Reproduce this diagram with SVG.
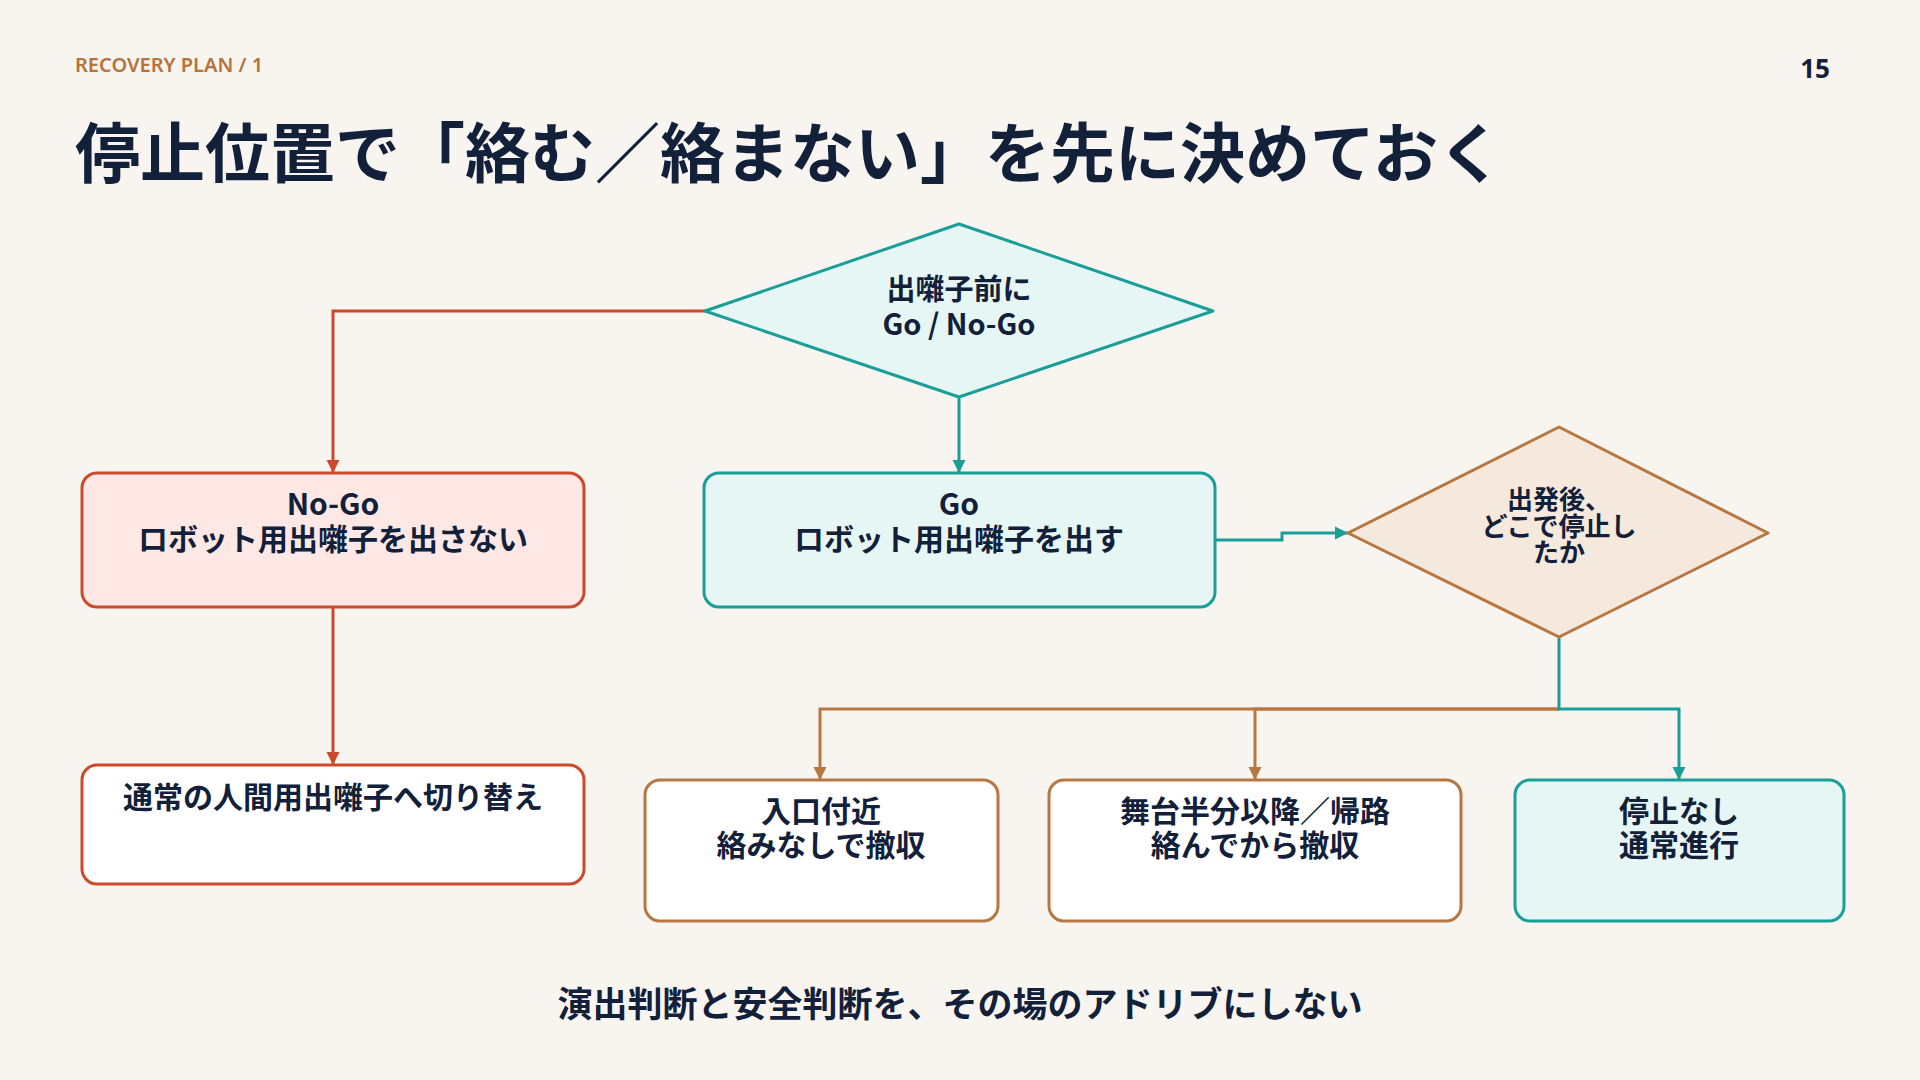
<svg xmlns="http://www.w3.org/2000/svg" width="1920" height="1080" viewBox="0 0 1920 1080">
<style>
.t{font-family:"Noto Sans CJK JP","Noto Sans",sans-serif;font-weight:700;fill:#12203a;text-anchor:middle}
.n{font-size:30px}
.red{stroke:#cc4a2c}
.teal{stroke:#1a9e98}
.brown{stroke:#b87640}
.c{fill:none;stroke-width:3}
</style>
<defs>
<marker id="ar" viewBox="0 0 10 10" refX="10" refY="5" markerWidth="4.5" markerHeight="4.5" orient="auto" markerUnits="strokeWidth"><path d="M0,0L10,5L0,10z" fill="#cc4a2c"/></marker>
<marker id="at" viewBox="0 0 10 10" refX="10" refY="5" markerWidth="4.5" markerHeight="4.5" orient="auto" markerUnits="strokeWidth"><path d="M0,0L10,5L0,10z" fill="#1a9e98"/></marker>
<marker id="ab" viewBox="0 0 10 10" refX="10" refY="5" markerWidth="4.5" markerHeight="4.5" orient="auto" markerUnits="strokeWidth"><path d="M0,0L10,5L0,10z" fill="#b87640"/></marker>
</defs>
<rect width="1920" height="1080" fill="#f8f5f0"/>
<text x="75" y="72" style="font-family:'Noto Sans','Open Sans',sans-serif;font-weight:600;font-size:20px;fill:#b5733d">RECOVERY PLAN / 1</text>
<text x="1815" y="78" style="font-family:'Noto Sans','Open Sans',sans-serif;font-weight:700;font-size:26px;fill:#12203a;text-anchor:middle">15</text>
<text x="75" y="177" style="font-family:'Noto Sans CJK JP',sans-serif;font-weight:700;font-size:65px;fill:#12203a">停止位置で「絡む／絡まない」を先に決めておく</text>

<g id="connectors">
<path class="c red" d="M705,311H333V473" marker-end="url(#ar)"/>
<path class="c teal" d="M959,397V473" marker-end="url(#at)"/>
<path class="c red" d="M333,607V765" marker-end="url(#ar)"/>
<path class="c teal" d="M1215,540H1282V533H1348" marker-end="url(#at)"/>
<path class="c brown" d="M1559,709H820V780" marker-end="url(#ab)"/>
<path class="c brown" d="M1559,709H1255V780" marker-end="url(#ab)"/>
<path class="c teal" d="M1559,637V709H1679V780" marker-end="url(#at)"/>
</g>

<g id="decision-go">
<polygon points="959,224 1213,311 959,397 705,311" fill="#e6f6f4" stroke="#1a9e98" stroke-width="3" stroke-linejoin="round"/>
<text class="t" style="font-size:29px" x="959" y="300">出囃子前に</text>
<text class="t" style="font-size:29px" x="959" y="335">Go / No-Go</text>
</g>

<g id="nogo">
<rect x="82" y="473" width="502" height="134" rx="15" fill="#fde8e5" stroke="#cc4a2c" stroke-width="3"/>
<text class="t n" x="333" y="515">No-Go</text>
<text class="t n" x="333" y="550">ロボット用出囃子を出さない</text>
</g>

<g id="go">
<rect x="704" y="473" width="511" height="134" rx="15" fill="#e6f6f4" stroke="#1a9e98" stroke-width="3"/>
<text class="t n" x="959" y="515">Go</text>
<text class="t n" x="959" y="550">ロボット用出囃子を出す</text>
</g>

<g id="decision-stop">
<polygon points="1559,427 1768,533 1559,637 1348,533" fill="#f5e8dd" stroke="#b87640" stroke-width="3" stroke-linejoin="round"/>
<text class="t" style="font-size:26px" x="1559" y="509">出発後、</text>
<text class="t" style="font-size:26px" x="1559" y="536">どこで停止し</text>
<text class="t" style="font-size:26px" x="1559" y="562">たか</text>
</g>

<g id="human">
<rect x="82" y="765" width="502" height="119" rx="15" fill="#ffffff" stroke="#cc4a2c" stroke-width="3"/>
<text class="t n" x="333" y="808">通常の人間用出囃子へ切り替え</text>
</g>

<g id="entrance">
<rect x="645" y="780" width="353" height="141" rx="15" fill="#ffffff" stroke="#b87640" stroke-width="3"/>
<text class="t n" x="821" y="822">入口付近</text>
<text class="t n" x="821" y="856">絡みなしで撤収</text>
</g>

<g id="half">
<rect x="1049" y="780" width="412" height="141" rx="15" fill="#ffffff" stroke="#b87640" stroke-width="3"/>
<text class="t n" x="1255" y="822">舞台半分以降／帰路</text>
<text class="t n" x="1255" y="856">絡んでから撤収</text>
</g>

<g id="nostop">
<rect x="1515" y="780" width="329" height="141" rx="15" fill="#e6f6f4" stroke="#1a9e98" stroke-width="3"/>
<text class="t n" x="1679" y="822">停止なし</text>
<text class="t n" x="1679" y="856">通常進行</text>
</g>

<text x="960" y="1017" style="font-family:'Noto Sans CJK JP',sans-serif;font-weight:700;font-size:35px;fill:#12203a;text-anchor:middle">演出判断と安全判断を、その場のアドリブにしない</text>
</svg>
